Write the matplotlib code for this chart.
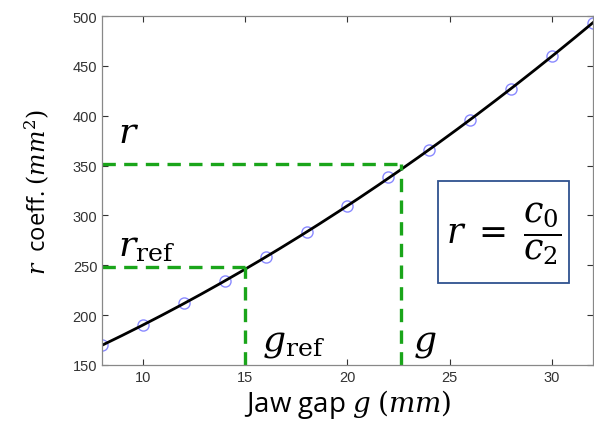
import numpy as np
import matplotlib.pyplot as plt
from matplotlib.patches import Rectangle

plt.rcParams['font.family'] = ['Open Sans', 'DejaVu Sans']
plt.rcParams['mathtext.fontset'] = 'dejavuserif'

# measured r coefficient vs jaw gap
gap = [8, 10, 12, 14, 16, 18, 20, 22, 24, 26, 28, 30, 32]
r_coeff = [170, 190, 212, 234, 258, 283, 309, 339, 366, 396, 427, 460, 493]

g_ref, r_ref = 15, 248
g_new, r_new = 22.6, 352

# quadratic fit through the measurements
p = np.polyfit(gap, r_coeff, 2)
gx = np.linspace(8, 32, 200)

fig = plt.figure(figsize=(5.94, 4.27), dpi=100)
ax = fig.add_axes([0.172, 0.143, 0.826, 0.817])

ax.plot(gap, r_coeff, 'o', mfc='none', mec='#8a8aff', ms=8, mew=1.0)
ax.plot(gx, np.polyval(p, gx), 'k-', lw=2)

green = '#1aa51a'
kw = dict(color=green, lw=2.4, ls=(0, (4, 2.5)))
ax.plot([8, g_ref], [r_ref, r_ref], **kw)
ax.plot([g_ref, g_ref], [150, r_ref], **kw)
ax.plot([8, g_new], [r_new, r_new], **kw)
ax.plot([g_new, g_new], [150, r_new], **kw)

ax.text(8.75, 374, r'$r$', fontsize=26, va='baseline')
ax.text(8.75, 261, r'$r_{\mathrm{ref}}$', fontsize=26, va='baseline')
ax.text(15.8, 165, r'$g_{\mathrm{ref}}$', fontsize=26, va='baseline')
ax.text(23.2, 165, r'$g$', fontsize=26, va='baseline')

# formula box
ax.add_patch(Rectangle((24.45, 232), 6.37, 102.5, fc='white', ec='#2f528f', lw=1.3, zorder=3))
ax.text(27.63, 283, r'$r\;=\;\dfrac{c_0}{c_2}$', fontsize=25, ha='center', va='center', zorder=4)

ax.set_xlim(8, 32)
ax.set_ylim(150, 500)
ax.set_xticks([10, 15, 20, 25, 30])
ax.set_yticks(range(150, 501, 50))
ax.tick_params(direction='in', top=True, right=True, labelsize=10.5,
               colors='#333333', length=4, width=0.8)
for lab in ax.get_xticklabels() + ax.get_yticklabels():
    lab.set_family('Liberation Sans')
for s in ax.spines.values():
    s.set_color('#888888')
    s.set_linewidth(0.9)

ax.set_xlabel(r'Jaw gap $g$ $(mm)$', fontsize=20, labelpad=2)
ax.set_ylabel(r'$r$  coeff. $(mm^2)$', fontsize=17, labelpad=15)

fig.savefig('out.png', dpi=100)
